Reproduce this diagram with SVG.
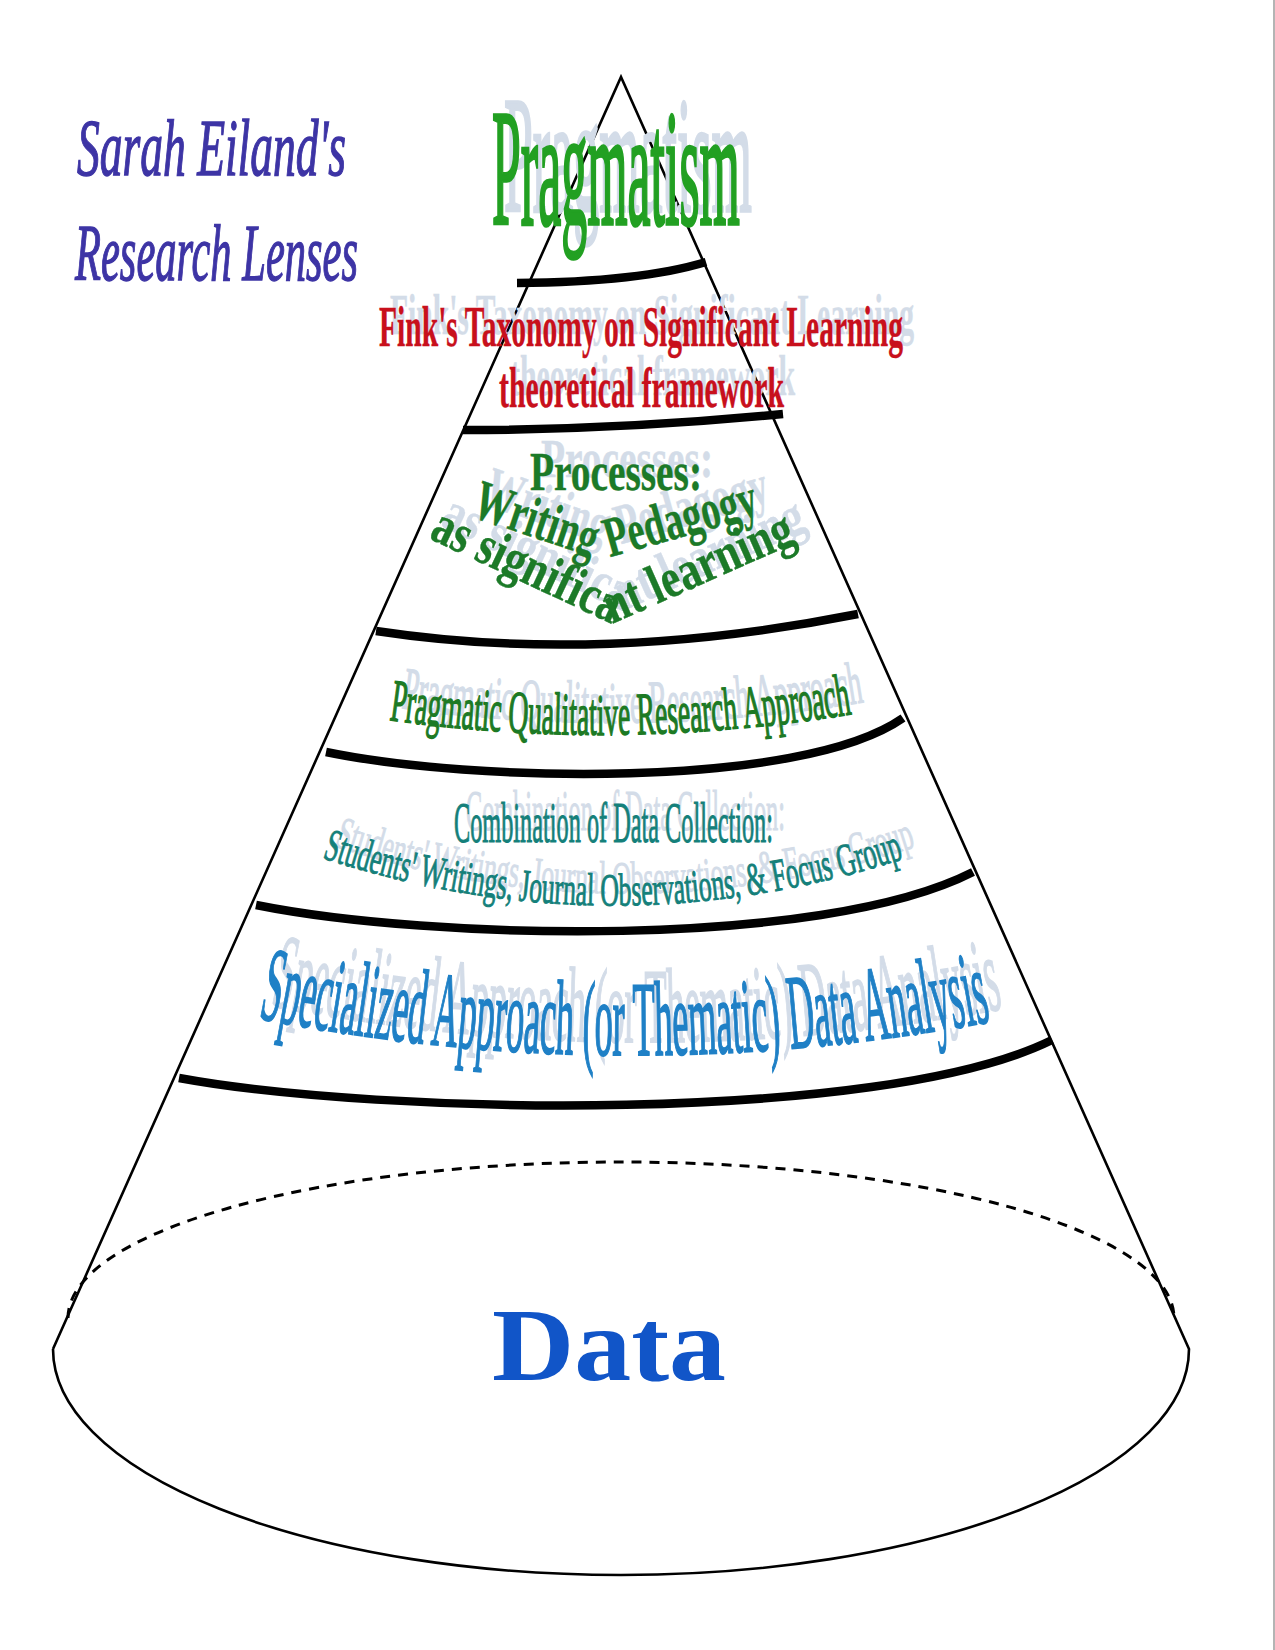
<svg xmlns="http://www.w3.org/2000/svg" xmlns:xlink="http://www.w3.org/1999/xlink" width="1275" height="1650" viewBox="0 0 1275 1650">
<style>
  .serif{font-family:"Liberation Serif","Times New Roman",serif}
  .ghost{fill:#d3dce8;stroke:#d3dce8}
  .band{fill:none;stroke:#000;stroke-width:8.5;stroke-linecap:butt}
  .cone{fill:none;stroke:#000;stroke-width:2.6;stroke-linejoin:miter}
  .dash{fill:none;stroke:#000;stroke-width:3;stroke-dasharray:10 8}
</style>
<defs>
  <path id="p-writing" d="M470,516 L600,560 L764,514"/>
  <path id="p-assig" d="M428,538 L612,624 L802,540"/>
  <path id="p-pqra" d="M389,720 Q620,752 852,714"/>
  <path id="p-students" d="M322,858 Q610,952 900,860"/>
  <path id="p-special" d="M258,1018 Q620,1090 988,1022"/>
</defs>
<rect x="0" y="0" width="1275" height="1650" fill="#fff"/>
<line x1="1274" y1="0" x2="1274" y2="1650" stroke="#b4b4b4" stroke-width="2"/>

<g id="cone">
  <path class="cone" d="M53,1349 L621,77 L1189,1349 A568 226 0 0 1 53 1349"/>
  <path class="dash" d="M68,1318 A553 156 0 0 1 1174 1318"/>
</g>

<g id="connectors">
  <path class="band" d="M517,283 Q640,282 706,262"/>
  <path class="band" d="M463,430 Q620,430 783,414"/>
  <path class="band" d="M376,631 Q600,665 858,614"/>
  <path class="band" d="M326,752 C470,782 800,790 903,718"/>
  <path class="band" d="M256,905 C430,940 820,950 973,872"/>
  <path class="band" d="M179,1078 C380,1115 880,1125 1052,1040"/>
</g>

<g id="title" fill="#3d34a5" stroke="#3d34a5" stroke-width="1.4" class="serif" font-style="italic">
  <text x="77" y="175" font-size="80" textLength="269" lengthAdjust="spacingAndGlyphs">Sarah Eiland's</text>
  <text x="75" y="280" font-size="80" textLength="283" lengthAdjust="spacingAndGlyphs">Research Lenses</text>
</g>

<g id="pragmatism">
  <use href="#t-prag" class="ghost" transform="translate(12,-13)"/>
  <g fill="#22a022" stroke="#22a022"><text id="t-prag" class="serif" x="492" y="224" font-size="165" stroke-width="3.5" textLength="248" lengthAdjust="spacingAndGlyphs">Pragmatism</text></g>
</g>

<g id="fink">
  <use href="#t-fink" class="ghost" transform="translate(11,-12)"/>
  <g fill="#c8101c" stroke="#c8101c"><g id="t-fink" class="serif" font-size="57" font-weight="bold" stroke-width="0.4">
    <text x="379" y="346" textLength="524" lengthAdjust="spacingAndGlyphs">Fink's Taxonomy on Significant Learning</text>
    <text x="499" y="407" textLength="285" lengthAdjust="spacingAndGlyphs">theoretical framework</text>
  </g></g>
</g>

<g id="processes">
  <use href="#t-proc" class="ghost" transform="translate(11,-13)"/>
  <g fill="#1c7a28" stroke="#1c7a28"><g id="t-proc" class="serif" font-size="54" font-weight="bold" stroke-width="0.4">
    <text x="530" y="490" textLength="172" lengthAdjust="spacingAndGlyphs">Processes:</text>
    <text font-size="57"><textPath href="#p-writing" textLength="304" lengthAdjust="spacingAndGlyphs">Writing&#160;&#160;Pedagogy</textPath></text>
    <text font-size="55"><textPath href="#p-assig" textLength="406" lengthAdjust="spacingAndGlyphs">as significant learning</textPath></text>
  </g></g>
</g>

<g id="approach">
  <use href="#t-pqra" class="ghost" transform="translate(12,-12)"/>
  <g fill="#1c7a24" stroke="#1c7a24"><text id="t-pqra" class="serif" font-size="60" stroke-width="1.5"><textPath href="#p-pqra" textLength="465" lengthAdjust="spacingAndGlyphs">Pragmatic Qualitative Research Approach</textPath></text></g>
</g>

<g id="collection">
  <use href="#t-coll" class="ghost" transform="translate(12,-12)"/>
  <g fill="#14807a" stroke="#14807a"><g id="t-coll" class="serif" stroke-width="1">
    <text x="454" y="842" font-size="56" textLength="319" lengthAdjust="spacingAndGlyphs">Combination of Data Collection:</text>
    <text font-size="46"><textPath href="#p-students" textLength="592" lengthAdjust="spacingAndGlyphs">Students' Writings, Journal Observations, &amp; Focus Group</textPath></text>
  </g></g>
</g>

<g id="analysis">
  <use href="#t-anal" class="ghost" transform="translate(12,-13)"/>
  <g fill="#1f80c6" stroke="#1f80c6"><text id="t-anal" class="serif" font-size="106" stroke-width="2"><textPath href="#p-special" textLength="738" lengthAdjust="spacingAndGlyphs">Specialized Approach (or Thematic) Data Analysis</textPath></text></g>
</g>

<g id="data">
  <text class="serif" x="492" y="1380" font-size="104" font-weight="bold" fill="#1155c8" textLength="234" lengthAdjust="spacingAndGlyphs">Data</text>
</g>
</svg>
